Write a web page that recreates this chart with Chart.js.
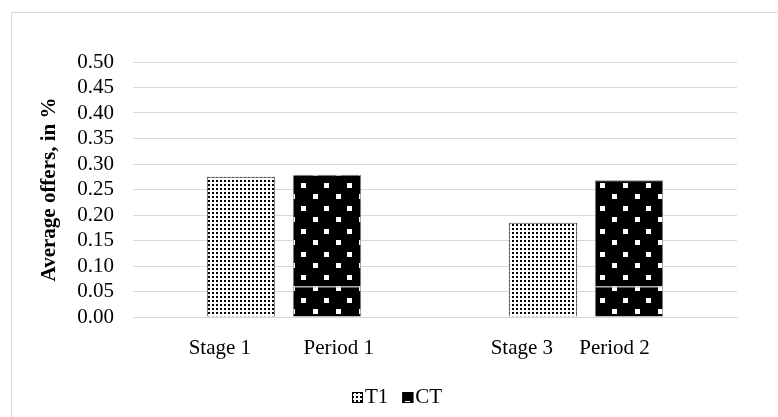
<!DOCTYPE html>
<html>
<head>
<meta charset="utf-8">
<script src="https://cdn.jsdelivr.net/npm/chart.js@4.4.1/dist/chart.umd.min.js"></script>
<style>
  html, body { margin: 0; padding: 0; background: #ffffff; }
  #wrap { width: 778px; height: 417px; position: relative; }
</style>
</head>
<body>
<div id="wrap"><canvas id="chart" width="778" height="417"></canvas></div>
<script>
// Category labels (two cells per cluster, spaced as in the source sheet)
const categories = ["Stage 1          Period 1 ", "Stage 3     Period 2      "];
// Average offers per cluster
const t1Values = [0.275, 0.185];
const ctValues = [0.279, 0.268];
// CT bars are built from two stacked pieces; this is the lower piece
const ctLowerPiece = [0.06, 0.06];
// Value axis
const yMin = 0;
const yMax = 0.5;
const yStep = 0.05;
const yTitle = "Average offers, in %";

const FONT = "'Liberation Serif', 'Times New Roman', serif";

// Fine black dots on white
function dotPattern() {
  const c = document.createElement('canvas');
  c.width = 4; c.height = 4;
  const g = c.getContext('2d');
  g.fillStyle = '#ffffff';
  g.fillRect(0, 0, 4, 4);
  g.fillStyle = '#000000';
  g.fillRect(0, 0, 2, 2);
  return g.createPattern(c, 'repeat');
}

// Black with staggered white squares
function squarePattern() {
  const s = 23;
  const c = document.createElement('canvas');
  c.width = s; c.height = s;
  const g = c.getContext('2d');
  g.fillStyle = '#000000';
  g.fillRect(0, 0, s, s);
  g.fillStyle = '#ffffff';
  const sq = [[2, 22], [14, 10]];
  sq.forEach(([x, y]) => {
    for (const dx of [0, -s]) for (const dy of [0, -s]) g.fillRect(x + dx, y + dy, 5, 5);
  });
  return g.createPattern(c, 'repeat');
}

const t1Fill = dotPattern();
const ctFill = squarePattern();
const ctUpperPiece = ctValues.map((v, i) => +(v - ctLowerPiece[i]).toFixed(4));

// White page with the light frame of the chart object
const framePlugin = {
  id: 'frame',
  beforeDraw(chart) {
    const ctx = chart.ctx;
    ctx.save();
    ctx.fillStyle = '#ffffff';
    ctx.fillRect(0, 0, chart.width, chart.height);
    ctx.strokeStyle = '#d9d9d9';
    ctx.lineWidth = 1;
    ctx.strokeRect(11.5, 12.5, chart.width + 20, chart.height + 20);
    ctx.restore();
  }
};

// Compact legend: small swatch right next to its label
const legendPlugin = {
  id: 'compactLegend',
  afterDraw(chart) {
    const ctx = chart.ctx;
    const seen = new Set();
    const items = [];
    chart.data.datasets.forEach(ds => {
      if (ds.inLegend === false || seen.has(ds.label)) return;
      seen.add(ds.label);
      items.push(ds);
    });
    ctx.save();
    ctx.font = `21px ${FONT}`;
    ctx.textBaseline = 'alphabetic';
    const box = 11, gap = 2, itemGap = 14;
    let total = 0;
    items.forEach((ds, i) => {
      total += box + gap + ctx.measureText(ds.label).width + (i < items.length - 1 ? itemGap : 0);
    });
    let x = Math.round(397 - total / 2);
    const baseY = 403;
    items.forEach(ds => {
      ctx.fillStyle = ds.backgroundColor;
      ctx.fillRect(x, baseY - 11, box, box);
      ctx.strokeStyle = '#000000';
      ctx.lineWidth = 1;
      ctx.strokeRect(x + 0.5, baseY - 10.5, box - 1, box - 1);
      x += box + gap;
      ctx.fillStyle = '#000000';
      ctx.fillText(ds.label, x, baseY);
      x += ctx.measureText(ds.label).width + itemGap;
    });
    ctx.restore();
  }
};

new Chart(document.getElementById('chart'), {
  type: 'bar',
  data: {
    labels: categories,
    datasets: [
      {
        label: 'T1', data: t1Values, stack: 't1',
        backgroundColor: t1Fill, borderColor: '#3f3f3f', borderWidth: 1
      },
      {
        label: 'CT', data: ctLowerPiece, stack: 'ct',
        backgroundColor: ctFill, borderColor: '#808080', borderWidth: 1
      },
      {
        label: 'CT', data: ctUpperPiece, stack: 'ct', inLegend: false,
        backgroundColor: ctFill, borderColor: '#808080', borderWidth: 1
      }
    ]
  },
  options: {
    responsive: false,
    animation: false,
    datasets: { bar: { categoryPercentage: 0.5695, barPercentage: 0.795 } },
    layout: { padding: { left: 33, right: 41, top: 62, bottom: 56 } },
    plugins: {
      legend: { display: false },
      tooltip: { enabled: false },
      title: { display: false }
    },
    scales: {
      x: {
        stacked: true,
        grid: { display: false, drawTicks: false },
        border: { display: true, color: '#d9d9d9', width: 1 },
        ticks: {
          color: '#000000', font: { family: FONT, size: 21 },
          padding: 19, maxRotation: 0, autoSkip: false
        },
        afterFit(scale) { scale.height = 44; }
      },
      y: {
        stacked: true,
        min: yMin, max: yMax,
        grid: { color: '#d9d9d9', lineWidth: 1, drawTicks: false },
        border: { display: false },
        ticks: {
          stepSize: yStep, color: '#000000', padding: 19, autoSkip: false,
          font: { family: FONT, size: 21 },
          callback: v => Number(v).toFixed(2)
        },
        title: {
          display: true, text: yTitle, color: '#000000',
          font: { family: FONT, size: 21, weight: 'bold' },
          padding: { top: 4, bottom: 15 }
        },
        afterFit(scale) { scale.width = 100; }
      }
    }
  },
  plugins: [framePlugin, legendPlugin]
});
</script>
</body>
</html>
